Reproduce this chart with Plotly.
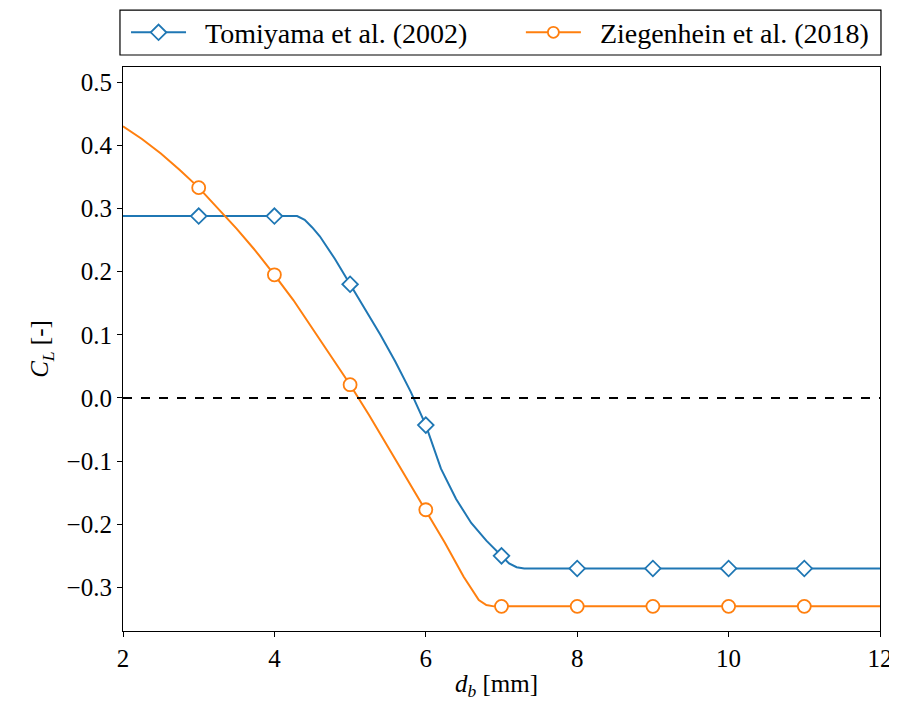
import plotly.graph_objects as go

# Curve data
tomi_x = [2, 3, 4, 4.3, 4.4, 4.5, 4.6, 4.8, 5.0, 5.2, 5.4, 5.6, 5.8, 6.0, 6.2, 6.4, 6.6, 6.8, 7.0, 7.1, 7.2, 7.3, 12]
tomi_y = [0.288, 0.288, 0.288, 0.288, 0.282, 0.270, 0.256, 0.220, 0.180, 0.140, 0.100, 0.057, 0.010, -0.043,
          -0.112, -0.160, -0.198, -0.226, -0.250, -0.262, -0.268, -0.270, -0.270]

zieg_x = [2, 2.25, 2.5, 2.75, 3, 3.25, 3.5, 3.75, 4, 4.25, 4.5, 4.75, 5, 5.25, 5.5, 5.75, 6, 6.25, 6.5, 6.7, 6.8, 6.9, 12]
zieg_y = [0.430, 0.410, 0.387, 0.361, 0.333, 0.301, 0.268, 0.233, 0.195, 0.155, 0.110, 0.066, 0.021, -0.027,
          -0.077, -0.127, -0.177, -0.229, -0.283, -0.320, -0.328, -0.330, -0.330]

marker_x = [3, 4, 5, 6, 7, 8, 9, 10, 11]
tomi_marker_y = [0.288, 0.288, 0.180, -0.043, -0.250, -0.270, -0.270, -0.270, -0.270]
zieg_marker_y = [0.333, 0.195, 0.021, -0.177, -0.330, -0.330, -0.330, -0.330, -0.330]

names = ["Tomiyama et al. (2002)", "Ziegenhein et al. (2018)"]
x_title = "<i>d</i><sub><i>b</i></sub> [mm]"
y_title = "<i>C</i><sub><i>L</i></sub> [-]"
blue = "#1f77b4"
orange = "#ff7f0e"
FONT = "Liberation Serif"
FS = 25
LFS = 28

fig = go.Figure()

fig.add_hline(y=0, line=dict(color="black", width=2, dash="dash"))

for name, cx, cy, my, color, sym, msize, leg in [
    (names[0], tomi_x, tomi_y, tomi_marker_y, blue, "diamond", 12, "legend"),
    (names[1], zieg_x, zieg_y, zieg_marker_y, orange, "circle", 13, "legend2"),
]:
    fig.add_trace(go.Scatter(x=cx, y=cy, mode="lines", line=dict(color=color, width=2),
                             showlegend=False, hoverinfo="skip"))
    fig.add_trace(go.Scatter(x=marker_x, y=my, mode="markers", showlegend=False,
                             marker=dict(symbol=sym, size=msize,
                                         color="white", line=dict(color=color, width=1.8))))
    # legend entry
    fig.add_trace(go.Scatter(x=[None], y=[None], mode="lines+markers", name="\u2002" + name, legend=leg,
                             line=dict(color=color, width=2),
                             marker=dict(symbol=sym, size=msize if sym == "diamond" else 11,
                                         color="white", line=dict(color=color, width=1.8))))

axis_common = dict(
    showgrid=False, zeroline=False, showline=True, linecolor="black", linewidth=1.2,
    mirror=True, ticks="outside", ticklen=5, tickwidth=1.2, tickcolor="black",
    tickfont=dict(family=FONT, size=FS, color="black"), automargin=False,
    ticklabeloverflow="allow",
)

fig.update_xaxes(range=[2, 12], tickvals=[2, 4, 6, 8, 10, 12], **axis_common)
fig.update_yaxes(range=[-0.369, 0.524], tickvals=[-0.3, -0.2, -0.1, 0.0, 0.1, 0.2, 0.3, 0.4, 0.5],
                 tickformat=".1f",
                 title=dict(text=y_title, font=dict(family=FONT, size=FS, color="black"), standoff=10),
                 **axis_common)

# x-axis title placed as annotation below the tick labels
fig.add_annotation(text=x_title, xref="paper", yref="paper", x=0.494, y=-0.097,
                   xanchor="center", yanchor="middle", showarrow=False,
                   font=dict(family=FONT, size=FS, color="black"))

# Legend frame
fig.add_shape(type="rect", xref="paper", yref="paper", x0=-0.004, x1=1.0013, y0=1.0213, y1=1.101,
              line=dict(color="black", width=1.2), fillcolor="white", layer="below")

leg_common = dict(orientation="h", yanchor="middle", y=1.061, xanchor="left",
                  borderwidth=0, bgcolor="rgba(0,0,0,0)", itemwidth=55,
                  font=dict(family=FONT, size=LFS, color="black"))

fig.update_layout(
    width=881, height=693,
    margin=dict(l=115, r=9, t=59, b=70, autoexpand=False),
    plot_bgcolor="white", paper_bgcolor="white",
    font=dict(family=FONT, size=FS, color="black"),
    legend=dict(x=0.004, **leg_common),
    legend2=dict(x=0.5256, **leg_common),
)

fig.write_html("out.html")
